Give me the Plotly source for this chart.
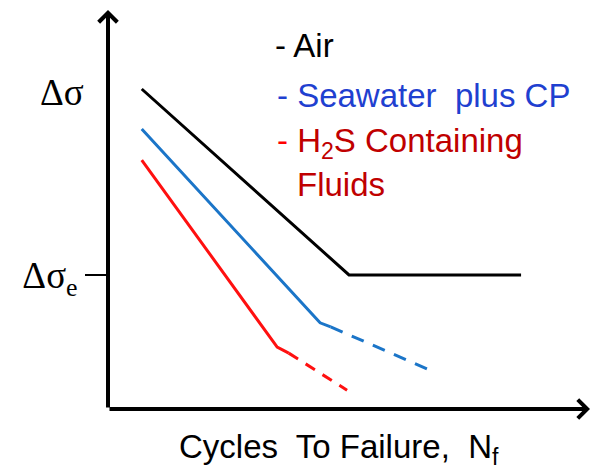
import plotly.graph_objects as go

# Data (arbitrary units: x ~ log cycles, y ~ stress range)
air_x = [0.70, 5.00, 8.57]
air_y = [8.02, 3.36, 3.36]

sw_solid_x = [0.70, 4.40, 4.62]
sw_solid_y = [7.02, 2.16, 2.06]
sw_dash_x = [4.62, 6.80]
sw_dash_y = [2.06, 0.91]

h2s_solid_x = [0.70, 3.51, 3.75]
h2s_solid_y = [6.24, 1.55, 1.40]
h2s_dash_x = [3.75, 4.96]
h2s_dash_y = [1.40, 0.47]

endurance_level = 3.36
stress_label_level = 7.94

W, H = 591, 469
L, R, T, B = 108, 1, 10, 60
XMAX, YMAX = 10, 10

def px(xp):
    return (xp - L) / (W - L - R)

def py(yp):
    return (H - B - yp) / (H - T - B)

fig = go.Figure()

fig.add_trace(go.Scatter(x=air_x, y=air_y, mode="lines",
                         line=dict(color="#000000", width=3), hoverinfo="skip"))
fig.add_trace(go.Scatter(x=sw_solid_x, y=sw_solid_y, mode="lines",
                         line=dict(color="#1B75C8", width=3), hoverinfo="skip"))
fig.add_trace(go.Scatter(x=sw_dash_x, y=sw_dash_y, mode="lines",
                         line=dict(color="#1B75C8", width=3, dash="13px,10px"), hoverinfo="skip"))
fig.add_trace(go.Scatter(x=h2s_solid_x, y=h2s_solid_y, mode="lines",
                         line=dict(color="#FF1010", width=3), hoverinfo="skip"))
fig.add_trace(go.Scatter(x=h2s_dash_x, y=h2s_dash_y, mode="lines",
                         line=dict(color="#FF1010", width=3, dash="11px,9px"), hoverinfo="skip"))

# Axes with arrows
fig.add_annotation(x=XMAX, y=0, ax=0, ay=0, xref="x", yref="y", axref="x", ayref="y",
                   showarrow=True, arrowhead=4, arrowwidth=4, arrowsize=0.9,
                   arrowcolor="#000000", text="")
fig.add_annotation(x=0, y=YMAX, ax=0, ay=0, xref="x", yref="y", axref="x", ayref="y",
                   showarrow=True, arrowhead=4, arrowwidth=4, arrowsize=0.9,
                   arrowcolor="#000000", text="")

serif = "Liberation Serif, Times New Roman, serif"
sans = "Liberation Sans, Arial, sans-serif"

fig.add_annotation(x=0, y=stress_label_level, xref="x", yref="y", text="Δσ",
                   showarrow=False, xanchor="right", xshift=-22,
                   font=dict(family=serif, size=37, color="#000000"))

legend_items = [
    (273, 45, "<span style='color:#000000'>- Air</span>"),
    (275, 95, "<span style='color:#1F40D0'>- Seawater  plus CP</span>"),
    (275, 143, "<span style='color:#FF0000'>-</span><span style='color:#C00000'> H<sub>2</sub>S Containing</span>"),
    (295, 184, "<span style='color:#C00000'>Fluids</span>"),
]
for xp, yp, txt in legend_items:
    fig.add_annotation(x=px(xp), y=py(yp), xref="paper", yref="paper", text=txt,
                       showarrow=False, xanchor="left", yanchor="middle",
                       font=dict(family=sans, size=33))

fig.add_annotation(x=px(339), y=py(449), xref="paper", yref="paper",
                   text="Cycles  To Failure,  N<sub>f</sub>", showarrow=False,
                   xanchor="center", yanchor="middle",
                   font=dict(family=sans, size=33, color="#000000"))

fig.update_layout(
    width=W, height=H,
    margin=dict(l=L, r=R, t=T, b=B, pad=0),
    paper_bgcolor="white", plot_bgcolor="white",
    showlegend=False,
    xaxis=dict(range=[0, XMAX], showgrid=False, zeroline=False, showticklabels=False,
               showline=False, ticks=""),
    yaxis=dict(range=[0, YMAX], showgrid=False, zeroline=False, showline=False,
               tickvals=[endurance_level], ticktext=["Δσ<sub>e</sub>"], ticks="outside",
               ticklen=22, tickwidth=2, tickcolor="#000000",
               tickfont=dict(family=serif, size=37, color="#000000")),
)

fig.write_html("out.html")
